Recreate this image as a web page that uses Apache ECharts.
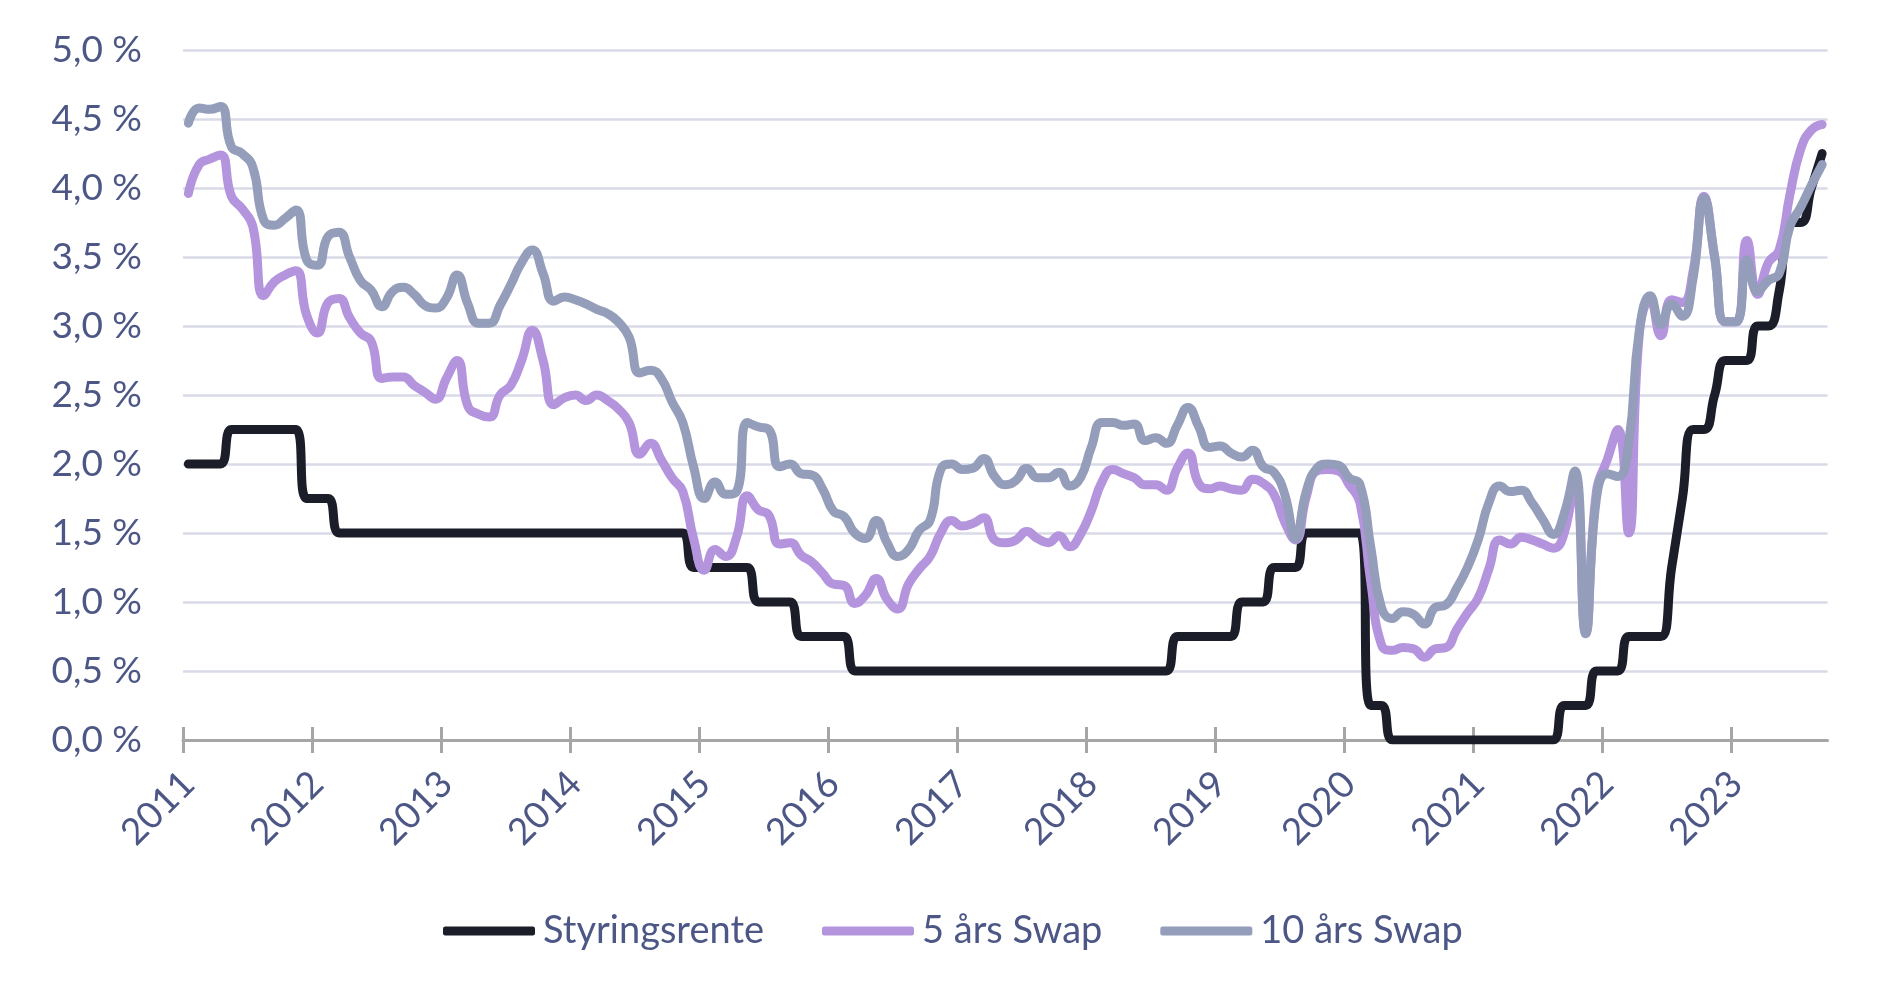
<!DOCTYPE html>
<html>
<head>
<meta charset="utf-8">
<script src="https://cdn.jsdelivr.net/npm/echarts@6/dist/echarts.min.js"></script>
<style>
html,body{margin:0;padding:0;background:#fff;}
#c{width:1882px;height:997px;}
</style>
</head>
<body>
<div id="c"></div>
<script>
// Years shown on the x axis (monthly data, Jan 2011 - Sep 2023)
const years = [2011,2012,2013,2014,2015,2016,2017,2018,2019,2020,2021,2022,2023];
const monthCodes = ['01','02','03','04','05','06','07','08','09','10','11','12'];
const yTicks = [0,0.5,1,1.5,2,2.5,3,3.5,4,4.5,5];

// Styringsrente (policy rate), monthly
const styringsrente = [
2.0,2.0,2.0,2.0,2.25,2.25,2.25,2.25,2.25,2.25,2.25,1.75,
1.75,1.75,1.5,1.5,1.5,1.5,1.5,1.5,1.5,1.5,1.5,1.5,
1.5,1.5,1.5,1.5,1.5,1.5,1.5,1.5,1.5,1.5,1.5,1.5,
1.5,1.5,1.5,1.5,1.5,1.5,1.5,1.5,1.5,1.5,1.5,1.25,
1.25,1.25,1.25,1.25,1.25,1.0,1.0,1.0,1.0,0.75,0.75,0.75,
0.75,0.75,0.5,0.5,0.5,0.5,0.5,0.5,0.5,0.5,0.5,0.5,
0.5,0.5,0.5,0.5,0.5,0.5,0.5,0.5,0.5,0.5,0.5,0.5,
0.5,0.5,0.5,0.5,0.5,0.5,0.5,0.5,0.75,0.75,0.75,0.75,
0.75,0.75,1.0,1.0,1.0,1.25,1.25,1.25,1.5,1.5,1.5,1.5,
1.5,1.5,0.25,0.25,0.0,0.0,0.0,0.0,0.0,0.0,0.0,0.0,
0.0,0.0,0.0,0.0,0.0,0.0,0.0,0.0,0.25,0.25,0.25,0.5,
0.5,0.5,0.75,0.75,0.75,0.75,1.25,1.75,2.25,2.25,2.5,2.75,
2.75,2.75,3.0,3.0,3.25,3.75,3.75,4.0,4.25
];

// 5 års Swap, monthly
const swap5 = [
3.96,4.17,4.21,4.24,3.94,3.85,3.72,3.22,3.32,3.37,3.40,3.08,
2.95,3.17,3.20,3.06,2.95,2.89,2.62,2.63,2.63,2.57,2.52,2.47,
2.62,2.75,2.42,2.36,2.34,2.50,2.57,2.75,2.97,2.75,2.43,2.48,
2.50,2.46,2.50,2.46,2.40,2.30,2.07,2.15,2.03,1.90,1.80,1.46,
1.23,1.38,1.33,1.47,1.77,1.67,1.63,1.42,1.43,1.34,1.29,1.21,
1.13,1.12,0.99,1.05,1.17,1.02,0.95,1.13,1.24,1.33,1.50,1.59,
1.55,1.57,1.61,1.45,1.43,1.45,1.51,1.46,1.43,1.48,1.40,1.49,
1.66,1.87,1.96,1.93,1.90,1.85,1.85,1.81,1.97,2.08,1.86,1.82,
1.84,1.82,1.81,1.89,1.86,1.78,1.58,1.45,1.76,1.95,1.96,1.95,
1.85,1.72,1.15,0.69,0.65,0.67,0.66,0.60,0.66,0.67,0.80,0.92,
1.03,1.24,1.45,1.42,1.47,1.45,1.42,1.39,1.50,1.88,0.78,1.80,
2.03,2.25,1.50,2.95,3.19,2.93,3.19,3.17,3.40,3.94,3.50,3.03,
3.03,3.62,3.23,3.46,3.55,3.95,4.28,4.42,4.46
];

// 10 års Swap, monthly
const swap10 = [
4.47,4.58,4.57,4.59,4.30,4.25,4.15,3.77,3.73,3.78,3.84,3.48,
3.44,3.65,3.68,3.50,3.33,3.26,3.14,3.25,3.28,3.23,3.15,3.13,
3.20,3.37,3.16,3.02,3.02,3.15,3.30,3.46,3.55,3.38,3.18,3.21,
3.19,3.16,3.12,3.09,3.03,2.92,2.66,2.68,2.62,2.45,2.30,1.98,
1.75,1.87,1.78,1.80,2.30,2.27,2.25,1.98,2.00,1.93,1.92,1.82,
1.66,1.62,1.50,1.46,1.59,1.43,1.33,1.38,1.52,1.59,1.96,2.00,
1.96,1.97,2.04,1.91,1.85,1.88,1.97,1.90,1.90,1.94,1.84,1.90,
2.12,2.30,2.30,2.28,2.29,2.17,2.19,2.15,2.28,2.41,2.27,2.12,
2.13,2.08,2.05,2.10,1.98,1.94,1.78,1.46,1.80,1.97,2.00,1.99,
1.90,1.85,1.40,0.96,0.88,0.93,0.91,0.84,0.96,0.98,1.10,1.25,
1.45,1.72,1.84,1.80,1.81,1.72,1.60,1.49,1.64,1.95,0.77,1.75,
1.93,1.91,2.15,2.97,3.22,3.01,3.16,3.07,3.35,3.93,3.50,3.03,
3.03,3.48,3.25,3.33,3.38,3.72,3.86,4.02,4.17
];

const categories = [];
years.forEach(y => monthCodes.forEach(m => categories.push(y + '-' + m)));
categories.length = styringsrente.length;
// month boundaries (one more than months) for the cross ticks at each new year
const boundaries = categories.concat(['end']);

const textColor = '#4d5785';
const fontFam = 'Lato, "Open Sans", sans-serif';
const tickStyle = {color: '#a6a6a6', width: 3};

const chart = echarts.init(document.getElementById('c'), null, {renderer: 'canvas'});
chart.setOption({
  animation: false,
  backgroundColor: '#ffffff',
  grid: {left: 183, right: 54.5, top: 50, bottom: 257},
  legend: {
    bottom: 42,
    left: 438,
    itemWidth: 92,
    itemHeight: 9,
    itemGap: 58,
    icon: 'roundRect',
    textStyle: {color: textColor, fontSize: 38, fontFamily: fontFam, padding: [0,0,0,3]},
    data: ['Styringsrente', '5 års Swap', '10 års Swap']
  },
  xAxis: [{
    type: 'category',
    data: categories,
    boundaryGap: true,
    axisLine: {show: true, lineStyle: {color: '#a6a6a6', width: 3}},
    axisTick: {show: false},
    axisLabel: {
      interval: 11,
      rotate: 45,
      margin: 38,
      color: textColor,
      fontSize: 37,
      fontFamily: fontFam,
      formatter: v => v.slice(0, 4)
    },
    splitLine: {show: false}
  }, {
    type: 'category',
    data: boundaries,
    boundaryGap: false,
    position: 'bottom',
    offset: -13,
    axisLine: {show: false},
    axisTick: {show: true, interval: 11, length: 26, lineStyle: tickStyle},
    axisLabel: {show: false},
    splitLine: {show: false}
  }],
  yAxis: {
    type: 'value',
    min: yTicks[0],
    max: yTicks[yTicks.length - 1],
    interval: 0.5,
    axisLine: {show: false},
    axisTick: {show: false},
    axisLabel: {
      margin: 41,
      color: textColor,
      fontSize: 37,
      fontFamily: fontFam,
      formatter: v => v.toFixed(1).replace('.', ',') + ' %'
    },
    splitLine: {lineStyle: {color: '#d8dae7', width: 2.5}}
  },
  series: [
    {name: 'Styringsrente', type: 'line', data: styringsrente, showSymbol: false, smooth: 0.5,
     lineStyle: {color: '#1b1d29', width: 9, cap: 'round', join: 'round'}, itemStyle: {color: '#1b1d29'}},
    {name: '5 års Swap', type: 'line', data: swap5, showSymbol: false, smooth: 0.5,
     lineStyle: {color: '#b394dd', width: 9, cap: 'round', join: 'round'}, itemStyle: {color: '#b394dd'}},
    {name: '10 års Swap', type: 'line', data: swap10, showSymbol: false, smooth: 0.5,
     lineStyle: {color: '#949dba', width: 9, cap: 'round', join: 'round'}, itemStyle: {color: '#949dba'}}
  ]
});
</script>
</body>
</html>
